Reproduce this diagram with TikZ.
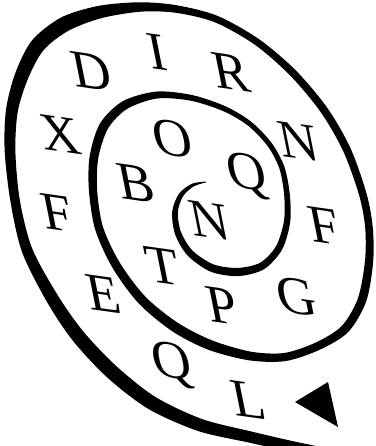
\documentclass[tikz,border=0pt]{standalone}
\usepackage{fontspec}
\setmainfont{Liberation Serif}
\begin{document}
\begin{tikzpicture}[x=1pt,y=-1pt,
  letter/.style={inner sep=0pt, font=\fontsize{54}{60}\selectfont, transform shape},
  shear/.style={cm={1,-0.14,-0.2,1,(0,0)}},
  ink/.style={fill=black, draw=none}]
\useasboundingbox (0,0) rectangle (375,446);
\clip (0,0) rectangle (375,446);
% spiral centre line: x, y, stroke width
\def\PX{{206,193,181,175,178,190,212,238,262,279,287,287,282,270,250,225,192,157,125,104,94,93,99,116,142,175,210,250,285,318,345,362,369,369,363,347,324,293,257,216,176,140,100,65,38,22,12,10,15,27,52,78,112,152,200,250,290,330}}
\def\PY{{182,185,195,212,233,253,268,272,266,248,222,195,168,145,124,109,98,95,105,126,157,190,228,265,300,327,345,356,357,346,329,300,262,228,195,150,110,73,42,19,9,7,12,24,45,75,110,150,200,250,298,336,372,403,425,437,446,454}}
\def\PW{{0.6,2.5,3.8,4.5,5,5.5,6.2,6.5,6,5.5,5,4.5,4.2,4,4,4.2,4.6,5.5,7,7.5,7,6.5,6.5,7,7.5,8,8,7,6.5,6.5,7,7,6.5,6,6,6.2,6.2,6,5.5,5.5,6,7.5,10,12,12,11,9.5,8.5,7.5,8.5,10,11,11.5,11,10,9,8.5,8}}
\foreach \i in {0,...,57} {
  \pgfmathtruncatemacro\ia{max(\i-1,0)}
  \pgfmathtruncatemacro\ib{min(\i+1,57)}
  \pgfmathsetmacro\tx{\PX[\ib]-\PX[\ia]}
  \pgfmathsetmacro\ty{\PY[\ib]-\PY[\ia]}
  \pgfmathsetmacro\tl{sqrt(\tx*\tx+\ty*\ty)}
  \pgfmathsetmacro\hw{\PW[\i]*0.63}
  \pgfmathsetmacro\px{\PX[\i]}
  \pgfmathsetmacro\py{\PY[\i]}
  \pgfmathsetmacro\lx{\px-\ty/\tl*\hw}
  \pgfmathsetmacro\ly{\py+\tx/\tl*\hw}
  \pgfmathsetmacro\rx{\px+\ty/\tl*\hw}
  \pgfmathsetmacro\ry{\py-\tx/\tl*\hw}
  \coordinate (L\i) at (\lx,\ly);
  \coordinate (R\i) at (\rx,\ry);
}
\gdef\Lpath{}
\foreach \i in {0,...,57}{\xdef\Lpath{\Lpath(L\i)}}
\gdef\Rpath{}
\foreach \i in {57,56,...,0}{\xdef\Rpath{\Rpath(R\i)}}
\edef\spiralcmd{\noexpand\fill[black] plot[smooth] coordinates {\Lpath} -- plot[smooth] coordinates {\Rpath} -- cycle;}
\spiralcmd
% letters
\node[letter, shift={(91,72)}, shear] (d) at (0,0) {D};
\node[letter, shift={(157,52)}, shear] (i) at (0,0) {I};
\node[letter, shift={(231,72)}, shear] (r) at (0,0) {R};
\node[letter, shift={(60,135)}, shear] (x) at (0,0) {X};
\node[letter, shift={(172,139)}, shear] (o) at (0,0) {O};
\node[letter, shift={(298,142)}, shear] (n1) at (0,0) {N};
\node[letter, shift={(136,183)}, shear] (b) at (0,0) {B};
\node[letter, shift={(247,176)}, shear] (q1) at (0,0) {Q};
\node[letter, shift={(209,221)}, shear] (n2) at (0,0) {N};
\node[letter, shift={(57,213)}, shear] (f1) at (0,0) {F};
\node[letter, shift={(324,226)}, shear] (f2) at (0,0) {F};
\node[letter, shift={(162,266)}, shear] (t) at (0,0) {T};
\node[letter, shift={(103,294)}, shear] (e) at (0,0) {E};
\node[letter, shift={(222,306)}, shear] (p) at (0,0) {P};
\node[letter, shift={(296,297)}, shear] (g) at (0,0) {G};
\node[letter, shift={(172,365)}, shear] (q2) at (0,0) {Q};
\node[letter, shift={(248,400)}, shear] (l) at (0,0) {L};
% arrow head
\coordinate (t1) at (295,402);
\coordinate (t2) at (328,382);
\coordinate (t3) at (338,427);
\fill[ink] (t1) -- (t2) -- (t3) -- cycle;
\end{tikzpicture}
\end{document}
